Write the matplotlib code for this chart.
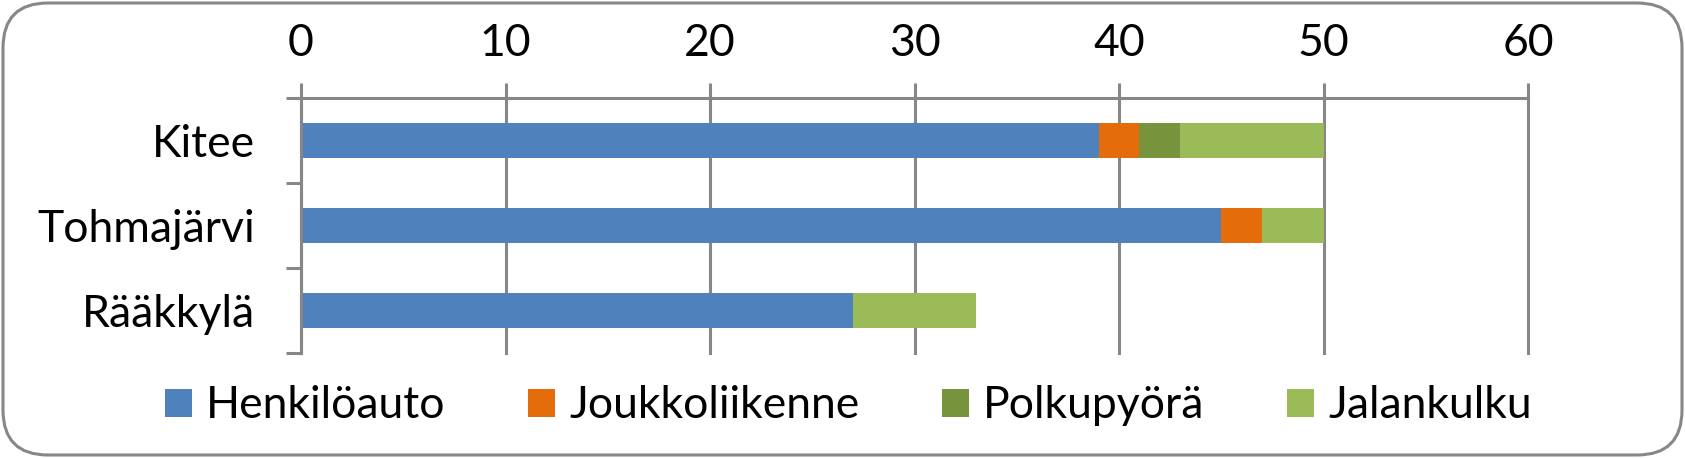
#Kulkutapajakauma kunnittain - vaakasuora pinottu pylväskuva
import numpy as np
import matplotlib.pyplot as plt
from matplotlib.patches import FancyBboxPatch

plt.rcParams['font.family'] = ['Lato', 'DejaVu Sans']

#Data
kunnat = ['Kitee', 'Tohmajärvi', 'Rääkkylä']
kulkutavat = ['Henkilöauto', 'Joukkoliikenne', 'Polkupyörä', 'Jalankulku']
henkiloauto = [39, 45, 27]
joukkoliikenne = [2, 2, 0]
polkupyora = [2, 0, 0]
jalankulku = [7, 3, 6]
x_ticks = [0, 10, 20, 30, 40, 50, 60]

sarjat = [henkiloauto, joukkoliikenne, polkupyora, jalankulku]
varit = ['#4F81BD', '#E46C0A', '#77933C', '#9BBB59']
harmaa = '#878787'

W, H = 1685, 458
fig = plt.figure(figsize=(W/100, H/100), dpi=100)
ax = fig.add_axes([301/W, (H-353)/H, 1227/W, 255/H])

#Pinotut palkit
y = np.arange(len(kunnat))
vasen = np.zeros(len(kunnat))
for arvot, vari, nimi in zip(sarjat, varit, kulkutavat):
    ax.barh(y, arvot, left=vasen, height=0.42, color=vari, label=nimi)
    vasen = vasen + np.array(arvot)

#Akselit
ax.set_xlim(0, 60)
ax.set_ylim(2.5, -0.5)
ax.set_axisbelow(True)
ax.grid(axis='x', color=harmaa, lw=2.2)
ax.xaxis.tick_top()
ax.set_xticks(x_ticks)
for viiva in ax.get_xgridlines():
    viiva.set_clip_on(False)
ax.tick_params(axis='x', length=10.8, width=2.2, color=harmaa, pad=14, labelsize=32)
ax.set_yticks(y)
ax.set_yticklabels(kunnat)
ax.tick_params(axis='y', which='major', length=0, pad=33, labelsize=32)
ax.set_yticks([-0.5, 0.5, 1.5, 2.5], minor=True)
ax.tick_params(axis='y', which='minor', length=10.8, width=2.2, color=harmaa)
for s in ['right', 'bottom']:
    ax.spines[s].set_visible(False)
for s in ['top', 'left']:
    ax.spines[s].set_color(harmaa)
    ax.spines[s].set_linewidth(2.2)

#Selite
h, l = ax.get_legend_handles_labels()
fig.legend(h, l, loc='center', bbox_to_anchor=(0.5036, 1-406/H), ncol=4, frameon=False,
           fontsize=32, handlelength=0.6, handleheight=0.6, handletextpad=0.32, columnspacing=1.86)

#Pyöristetty kehys
kehys = FancyBboxPatch((3, 3), W-6, H-6, boxstyle='round,pad=0,rounding_size=45',
                       transform=None, fill=False, edgecolor=harmaa, lw=2.2)
fig.add_artist(kehys)

fig.savefig('out.png', dpi=100)
